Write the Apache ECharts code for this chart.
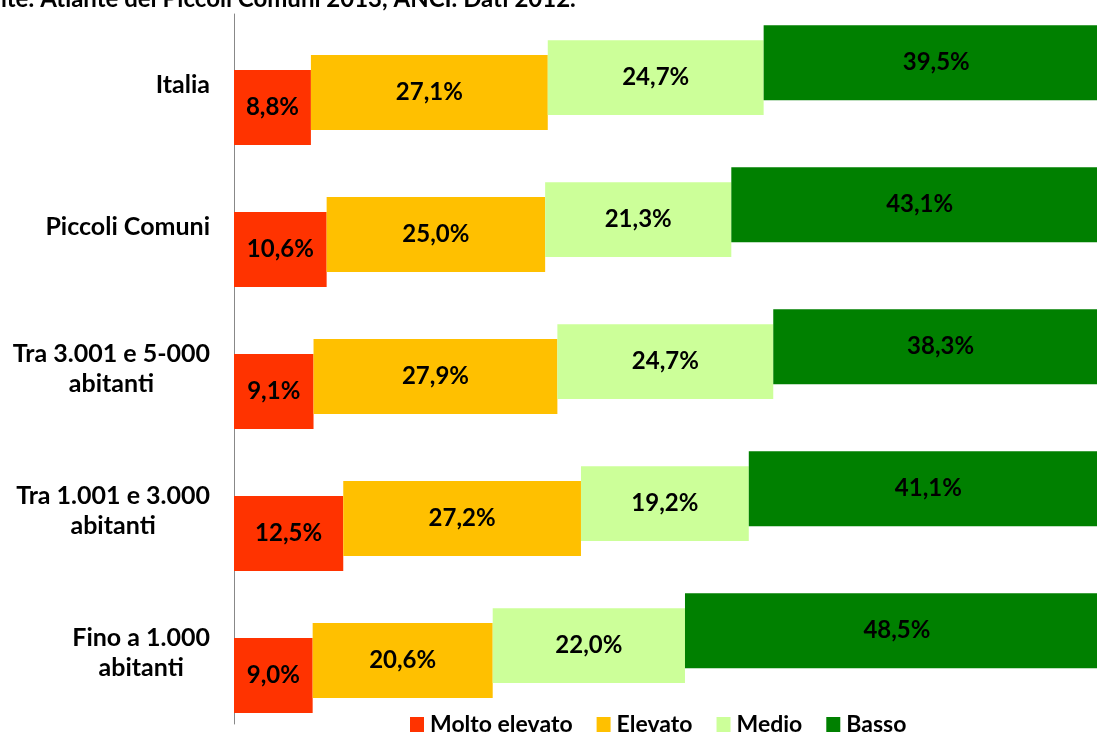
<!DOCTYPE html>
<html>
<head>
<meta charset="utf-8">
<script src="https://cdn.jsdelivr.net/npm/echarts@6/dist/echarts.min.js"></script>
<style>
	html, body { margin: 0; padding: 0; background: #fff; }
	#chart { width: 1097px; height: 733px; }
</style>
</head>
<body>
<div id="chart"></div>
<script>
// categorie (dall'alto in basso)
var categories = ['Italia', 'Piccoli Comuni', 'Tra 3.001 e 5-000\nabitanti', 'Tra 1.001 e 3.000\nabitanti', 'Fino a 1.000\nabitanti'];
// serie in percentuale
var moltoElevato = [8.8, 10.6, 9.1, 12.5, 9.0];
var elevato = [27.1, 25.0, 27.9, 27.2, 20.6];
var medio = [24.7, 21.3, 24.7, 19.2, 22.0];
var basso = [39.5, 43.1, 38.3, 41.1, 48.5];

var seriesNames = ['Molto elevato', 'Elevato', 'Medio', 'Basso'];
var seriesValues = [moltoElevato, elevato, medio, basso];
var colors = ['#FF3300', '#FFC000', '#CCFF99', '#008000'];

var FONT = 'Lato, "Open Sans", sans-serif';

// dati con inizio cumulato: [inizio, indice categoria, valore]
var buildData = function (k) {
	var out = [];
	for (var i = 0; i < categories.length; ++i) {
		var start = 0;
		for (var j = 0; j < k; ++j) start += seriesValues[j][i];
		out.push([start, i, seriesValues[k][i]]);
	}
	return out;
};

var fmt = function (v) {
	return v.toFixed(1).replace('.', ',') + '%';
};

// ogni serie e' spostata verso l'alto (effetto scalino)
var makeRender = function (k) {
	return function (params, api) {
		var s = api.value(0), cat = api.value(1), v = api.value(2);
		var p0 = api.coord([s, cat]);
		var p1 = api.coord([s + v, cat]);
		var band = api.size([0, 1])[1];
		var h = band * 0.528;
		var cy = p0[1] + band * (0.158 - 0.105 * k);
		return {
			type: 'group',
			children: [
				{
					type: 'rect',
					shape: { x: p0[0], y: cy - h / 2, width: p1[0] - p0[0], height: h },
					style: { fill: colors[k] }
				},
				{
					type: 'text',
					x: (p0[0] + p1[0]) / 2,
					y: cy,
					style: {
						text: fmt(v),
						fill: '#000',
						font: 'bold 24px ' + FONT,
						align: 'center',
						verticalAlign: 'middle'
					}
				}
			]
		};
	};
};

var series = [];
for (var k = 0; k < seriesNames.length; ++k) {
	series.push({
		name: seriesNames[k],
		type: 'custom',
		renderItem: makeRender(k),
		itemStyle: { color: colors[k] },
		encode: { x: [0, 2], y: 1 },
		clip: false,
		data: buildData(k)
	});
}

var chart = echarts.init(document.getElementById('chart'));
var option = {
	animation: false,
	backgroundColor: '#fff',
	title: {
		text: 'Fonte: Atlante dei Piccoli Comuni 2013, ANCI. Dati 2012.',
		left: -33,
		top: -13,
		padding: 0,
		textStyle: { fontFamily: FONT, fontWeight: 'bold', fontSize: 24, color: '#000' }
	},
	grid: { left: 234, width: 874, top: 14, bottom: 9, containLabel: false, outerBoundsMode: 'none' },
	legend: {
		data: seriesNames,
		left: 410,
		top: 713,
		padding: 0,
		icon: 'rect',
		itemWidth: 14,
		itemHeight: 15,
		itemGap: 24,
		textStyle: { fontFamily: FONT, fontWeight: 'bold', fontSize: 23, color: '#000', padding: [0, 0, 0, 1] }
	},
	xAxis: {
		type: 'value',
		min: 0,
		max: 100,
		show: false
	},
	yAxis: {
		type: 'category',
		inverse: true,
		data: categories,
		axisLine: { show: true, lineStyle: { color: '#888', width: 1 } },
		axisTick: { show: false },
		splitLine: { show: false },
		axisLabel: {
			align: 'right',
			margin: 24,
			formatter: function (val) {
				return val.split('\n').map(function (l) { return '{c|' + l + '}'; }).join('\n');
			},
			rich: {
				c: { align: 'center', fontFamily: FONT, fontWeight: 'bold', fontSize: 25, color: '#000', lineHeight: 30 }
			}
		}
	},
	series: series
};
chart.setOption(option);
</script>
</body>
</html>
